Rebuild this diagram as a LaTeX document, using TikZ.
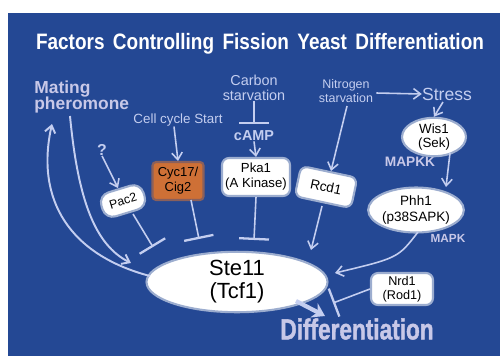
\documentclass[tikz,border=0pt]{standalone}
\usepackage{fontspec}
\setmainfont{Liberation Sans}
\newfontfamily\heavyfont[BoldFeatures={FakeBold=1.6}]{Liberation Sans}
\usetikzlibrary{arrows.meta,shapes.geometric}
\definecolor{bg}{RGB}{36,72,148}
\definecolor{ln}{RGB}{196,206,240}
\definecolor{lab}{RGB}{200,200,232}
\definecolor{orng}{RGB}{206,112,54}
\colorlet{glow}{white!55!bg}
\begin{document}
\begin{tikzpicture}[x=0.02cm,y=-0.02cm,
  fs/.style={font=\fontsize{#1}{#1}\selectfont},
  lbl/.style={text=ln, align=center, inner sep=0pt},
  wbox/.style={fill=white, draw=glow, line width=1.2pt, rounded corners=4pt, align=center, inner sep=0pt, text=black},
  well/.style={ellipse, fill=white, draw=glow, line width=1.2pt, align=center, inner sep=0pt, text=black},
  arr/.style={draw=ln, line width=0.9pt, -{Straight Barb[length=4pt,width=6pt]}},
  inh/.style={draw=ln, line width=0.9pt, -{Bar[width=17pt,line width=1.3pt]}},
]
\useasboundingbox (0,0) rectangle (500,356);
\fill[white] (0,0) rectangle (500,356);
\fill[bg] (8,13) rectangle (500,356);

% title
\node[text=white, inner sep=0pt] (title) at (260,44) {\scalebox{0.85}[1]{\fontsize{12.7}{14}\selectfont\bfseries Factors\, Controlling\, Fission\, Yeast\, Differentiation}};

% labels
\node[lbl, text=lab, align=left, anchor=west, font=\fontsize{9.9}{9.6}\selectfont\bfseries] (mating) at (34,97) {Mating\\pheromone};
\node[lbl, font=\fontsize{8.2}{8.6}\selectfont] (carbon) at (254,88) {Carbon\\starvation};
\node[lbl, font=\fontsize{7.1}{7.8}\selectfont] (nitro) at (346,91) {Nitrogen\\starvation};
\node[lbl, fs=10] (stress) at (447,94) {Stress};
\node[lbl, fs=7.6] (cellcyc) at (178,120) {Cell cycle Start};
\node[lbl, fs=8.2] (camp) at (254,136) {\bfseries cAMP};
\node[lbl, fs=9] (q) at (102,150) {\bfseries ?};
\node[lbl, text=lab, fs=7.8] (mapkk) at (410,162) {\bfseries MAPKK};
\node[lbl, text=lab, fs=6.7] (mapk) at (448,238) {\bfseries MAPK};
\node[lbl, text=lab, inner sep=0pt] (diff) at (357,329) {\scalebox{0.78}[1]{\fontsize{16.5}{17}\selectfont\heavyfont\bfseries Differentiation}};

% boxes
\node[wbox, font=\fontsize{7.5}{8.6}\selectfont, minimum width=1.36cm, minimum height=0.76cm] (pka) at (256,177) {Pka1\\(A Kinase)};
\node[wbox, fill=orng, draw=orng!60!bg, font=\fontsize{7.4}{8.4}\selectfont, minimum width=1.02cm, minimum height=0.76cm, rounded corners=2pt] (cyc) at (178,181) {Cyc17/\\Cig2};
\node[wbox, fs=7.7, minimum width=1.15cm, minimum height=0.62cm, rotate=-12] (rcd) at (326,187) {Rcd1};
\node[wbox, fs=7, minimum width=0.88cm, minimum height=0.5cm, rounded corners=6pt, rotate=17] (pac) at (123,201) {Pac2};
\node[wbox, font=\fontsize{7.2}{8.2}\selectfont, minimum width=1.24cm, minimum height=0.64cm] (nrd) at (402,289) {Nrd1\\(Rod1)};
\node[well, font=\fontsize{7.6}{8.4}\selectfont, minimum width=1.28cm, minimum height=0.56cm] (wis) at (434,137) {Wis1\\(Sek)};
\node[well, font=\fontsize{7.7}{9}\selectfont, minimum width=1.84cm, minimum height=0.9cm] (phh) at (416,210) {Phh1\\(p38SAPK)};
\node[well, font=\fontsize{12.5}{13}\selectfont, minimum width=3.62cm, minimum height=1.0cm] (ste) at (237,282) {Ste11\\(Tcf1)};

% coordinates
\coordinate (cbar) at (254,124);
\coordinate (pkabar) at (254,240);
\coordinate (cycbar) at (199,239);
\coordinate (pacbar) at (153,247);
\coordinate (nrdbar) at (333,303);
\coordinate (rcdend) at (311,250);
\coordinate (phhend) at (335,273);
\coordinate (m1s) at (70,116);
\coordinate (m1e) at (131,263);
\coordinate (m2s) at (150,276);
\coordinate (m2e) at (52,124);
\coordinate (dstart) at (296,301);
\coordinate (dend) at (325,316);
\coordinate (wisbot) at (450,153);
\coordinate (phhtop) at (446,187);

% connectors
\draw[inh] (carbon.south) -- (cbar);
\draw[arr] (camp.south) -- (pka.north);
\draw[inh] (pka.south) -- (pkabar);
\draw[arr] (cellcyc.south) ++(-4,0) -- (cyc.north);
\draw[inh] (191,200) -- (cycbar);
\draw[arr] (q.south) -- (118,188);
\draw[inh] (133,214) -- (pacbar);
\draw[arr] (347,106) -- (331,171);
\draw[arr] (322,206) -- (rcdend);
\draw[arr] (nitro.east) ++(3,2) -- (stress.west);
\draw[arr] (443,102) -- (wis.north);
\draw[arr] (wisbot) -- (phhtop);
\draw[arr] (418,232) .. controls (398,258) .. (phhend);
\draw[inh] (nrd.west) -- (nrdbar);
\draw[draw=ln, line width=2.4pt, -{Stealth[length=7pt,width=9pt]}] (dstart) -- (dend);
\draw[arr, line width=1.1pt] (m1s) .. controls (78,200) and (95,245) .. (m1e);
\draw[arr, line width=1.1pt] (m2s) .. controls (70,255) and (35,200) .. (m2e);
\end{tikzpicture}
\end{document}
